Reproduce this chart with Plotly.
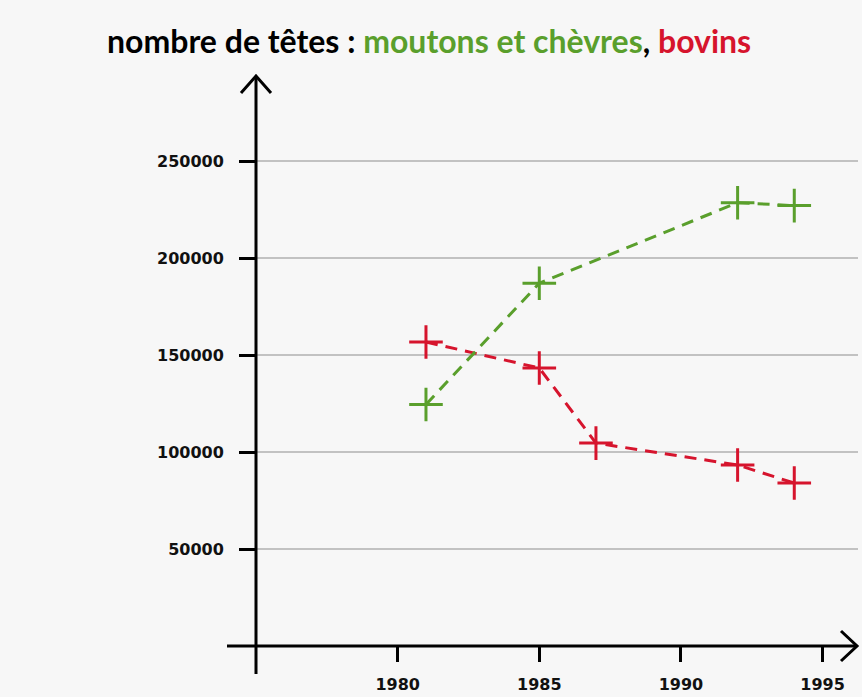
import plotly.graph_objects as go

# Head counts (number of animals) per census year
years_sheep_goats = [1981, 1985, 1992, 1994]
sheep_goats = [124500, 187000, 228500, 227000]

years_cattle = [1981, 1985, 1987, 1992, 1994]
cattle = [156700, 143300, 104600, 93300, 84000]

x_ticks = [1980, 1985, 1990, 1995]
y_ticks = [50000, 100000, 150000, 200000, 250000]

GREEN = "#5a9f2c"
RED = "#d6142d"
BG = "#f7f7f7"

W, H = 862, 697
ML, MR, MT, MB = 256, 4, 78, 51
PW, PH = W - ML - MR, H - MT - MB


def px(x):
    return (x - ML) / PW


def py(y):
    return (H - MB - y) / PH


fig = go.Figure()

for xs, ys, color in [(years_cattle, cattle, RED), (years_sheep_goats, sheep_goats, GREEN)]:
    fig.add_trace(go.Scatter(
        x=xs, y=ys, mode="lines+markers",
        line=dict(color=color, width=3, dash="12px,8px"),
        marker=dict(symbol="cross-thin", size=24, line=dict(color=color, width=3)),
        showlegend=False, cliponaxis=False,
    ))

axis_style = dict(color="#000", width=3)
shapes = [
    # vertical axis with arrow head
    dict(type="line", xref="paper", yref="paper", x0=px(256), x1=px(256), y0=py(674), y1=py(76), line=axis_style),
    dict(type="path", xref="paper", yref="paper",
         path=f"M {px(241)} {py(93)} L {px(256)} {py(76)} L {px(271)} {py(93)}", line=axis_style),
    # horizontal axis with arrow head
    dict(type="line", xref="paper", yref="paper", x0=px(227), x1=px(857), y0=py(646), y1=py(646), line=axis_style),
    dict(type="path", xref="paper", yref="paper",
         path=f"M {px(841)} {py(631)} L {px(857)} {py(646)} L {px(841)} {py(661)}", line=axis_style),
]

tick_font = dict(family="DejaVu Sans", size=16, color="#111", weight="bold")

fig.update_layout(
    width=W, height=H,
    margin=dict(l=ML, r=MR, t=MT, b=MB, pad=0, autoexpand=False),
    paper_bgcolor=BG, plot_bgcolor=BG,
    shapes=shapes,
    title=dict(
        text="nombre de têtes : "
             f"<span style='color:{GREEN}'>moutons et chèvres</span>, "
             f"<span style='color:{RED}'>bovins</span>",
        font=dict(family="Lato", size=32, color="#000", weight="bold"),
        xref="container", yref="container",
        x=107 / W, xanchor="left", y=1 - 42 / H, yanchor="middle",
    ),
    xaxis=dict(
        range=[1975, 1975 + PW / 28.33],
        tickvals=x_ticks, ticktext=[str(v) for v in x_ticks],
        ticks="outside", ticklen=15, tickwidth=3, tickcolor="#000",
        ticklabelstandoff=9, automargin=False,
        showgrid=False, zeroline=False, showline=False,
        tickfont=tick_font,
    ),
    yaxis=dict(
        range=[0, PH / 1.94 * 1000],
        tickvals=y_ticks, ticktext=[str(v) for v in y_ticks],
        ticks="outside", ticklen=16, tickwidth=3, tickcolor="#000",
        ticklabelstandoff=12, automargin=False,
        showgrid=True, gridcolor="#c2c2c2", gridwidth=2,
        zeroline=False, showline=False,
        tickfont=tick_font,
    ),
)

fig.write_html("out.html")
